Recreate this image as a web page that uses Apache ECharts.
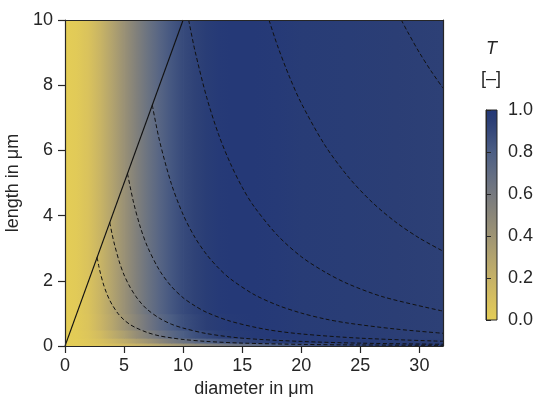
<!DOCTYPE html>
<html>
<head>
<meta charset="utf-8">
<script src="https://cdn.jsdelivr.net/npm/echarts@6/dist/echarts.min.js"></script>
<style>
  html, body { margin: 0; padding: 0; background: #ffffff; }
  #chart { width: 537px; height: 397px; }
</style>
</head>
<body>
<div id="chart"></div>
<script>
// Sample positions along the diameter axis (µm)
const diameterSamples = [0, 1, 2, 3, 4, 5, 6, 7, 8, 9, 10, 11, 12, 13, 14, 16, 18, 20, 24, 28, 32];

// Horizontal bands of length (µm); T only varies with length close to zero
const lengthBands = [[0, 0.1], [0.1, 0.25], [0.25, 0.5], [0.5, 1], [1, 10]];

// T profiles across the diameter samples, one per length band
const tBandA = [0, 0.01, 0.03, 0.06, 0.10, 0.14, 0.19, 0.24, 0.30, 0.36, 0.42, 0.48, 0.54, 0.59, 0.64, 0.72, 0.79, 0.85, 0.92, 0.96, 0.97];
const tBandB = [0, 0.01, 0.04, 0.09, 0.16, 0.23, 0.32, 0.40, 0.49, 0.58, 0.65, 0.72, 0.78, 0.83, 0.87, 0.93, 0.97, 0.98, 0.98, 0.96, 0.95];
const tBandC = [0, 0.015, 0.06, 0.13, 0.23, 0.33, 0.44, 0.54, 0.64, 0.73, 0.80, 0.86, 0.90, 0.94, 0.96, 0.98, 0.99, 0.98, 0.97, 0.95, 0.94];
const tBandD = [0, 0.02, 0.07, 0.17, 0.28, 0.40, 0.51, 0.62, 0.72, 0.80, 0.87, 0.91, 0.95, 0.97, 0.98, 0.99, 0.98, 0.97, 0.96, 0.95, 0.94];
const tBandE = [0, 0.02, 0.08, 0.18, 0.30, 0.42, 0.54, 0.65, 0.75, 0.83, 0.89, 0.93, 0.96, 0.98, 0.99, 0.99, 0.98, 0.97, 0.96, 0.95, 0.94];
const tProfiles = [tBandA, tBandB, tBandC, tBandD, tBandE];

// Dashed iso-volume curves, points as [diameter, length]
const contour1 = [[2.72, 2.72], [2.85, 2.47], [3, 2.23], [3.25, 1.90], [3.5, 1.64], [3.75, 1.43], [4, 1.26], [4.5, 0.99], [5, 0.80], [5.5, 0.66], [6, 0.56], [7, 0.41], [8, 0.31], [9, 0.25], [10, 0.20], [12, 0.14], [15, 0.089], [20, 0.050], [25, 0.032], [32, 0.020]];
const contour2 = [[3.79, 3.79], [4, 3.41], [4.2, 3.10], [4.6, 2.58], [5, 2.18], [5.5, 1.81], [6, 1.52], [6.5, 1.29], [7, 1.11], [8, 0.85], [9, 0.67], [10, 0.55], [12, 0.38], [15, 0.24], [20, 0.14], [25, 0.087], [32, 0.053]];
const contour3 = [[5.29, 5.29], [5.8, 4.41], [6.4, 3.62], [7, 3.03], [8, 2.32], [9, 1.83], [10, 1.48], [11, 1.23], [12, 1.03], [14, 0.76], [17, 0.51], [20, 0.37], [25, 0.24], [32, 0.145]];
const contour4 = [[7.39, 7.39], [8, 6.30], [9, 4.98], [10, 4.03], [11, 3.33], [12, 2.80], [13, 2.39], [14, 2.06], [16, 1.58], [18, 1.25], [20, 1.01], [22, 0.83], [24, 0.70], [28, 0.52], [32, 0.39]];
const contour5 = [[10.47, 10.0], [11, 9.06], [12, 7.62], [13, 6.49], [14, 5.60], [15, 4.87], [16, 4.28], [18, 3.39], [20, 2.74], [22, 2.27], [24, 1.90], [27, 1.50], [32, 1.07]];
const contour6 = [[17.27, 10.0], [18, 9.20], [19, 8.26], [20, 7.45], [22, 6.16], [24, 5.18], [26, 4.41], [28, 3.80], [30, 3.31], [32, 2.91]];
const contour7 = [[28.47, 10.0], [29, 9.64], [30, 9.00], [31, 8.43], [32, 7.91]];
const contours = [contour1, contour2, contour3, contour4, contour5, contour6, contour7];

// Solid boundary line where length equals diameter
const boundaryLine = [[0, 0], [10, 10]];

// Axis ticks
const xTicks = [0, 5, 10, 15, 20, 25, 30];
const yTicks = [0, 2, 4, 6, 8, 10];
const colorbarTicks = [0, 0.2, 0.4, 0.6, 0.8, 1.0];

// Colour map: yellow (0) through grey to navy (1)
const cmapStops = [
  [0.0, [228, 205, 86]],
  [0.1, [214, 191, 95]],
  [0.2, [197, 177, 103]],
  [0.3, [178, 163, 110]],
  [0.4, [158, 148, 116]],
  [0.5, [138, 134, 121]],
  [0.6, [118, 121, 127]],
  [0.7, [97, 108, 131]],
  [0.8, [76, 94, 132]],
  [0.9, [53, 72, 122]],
  [0.95, [43, 62, 117]],
  [1.0, [35, 56, 120]]
];

function cmap(t) {
  t = Math.max(0, Math.min(1, t));
  for (let i = 1; i < cmapStops.length; i++) {
    const [t1, c1] = cmapStops[i];
    const [t0, c0] = cmapStops[i - 1];
    if (t <= t1) {
      const f = (t - t0) / (t1 - t0);
      const c = c0.map((v, k) => Math.round(v + (c1[k] - v) * f));
      return 'rgb(' + c.join(',') + ')';
    }
  }
  const c = cmapStops[cmapStops.length - 1][1];
  return 'rgb(' + c.join(',') + ')';
}

// Cells: [d0, d1, L0, L1, T(d0), T(d1)]
const cells = [];
lengthBands.forEach((band, b) => {
  const prof = tProfiles[b];
  for (let i = 0; i < diameterSamples.length - 1; i++) {
    cells.push([diameterSamples[i], diameterSamples[i + 1], band[0], band[1], prof[i], prof[i + 1]]);
  }
});

const FONT = '"Liberation Sans", Arial, sans-serif';
const INK = '#262626';
const FS = 18;

const chart = echarts.init(document.getElementById('chart'), null, { renderer: 'canvas' });

const option = {
  backgroundColor: '#ffffff',
  animation: false,
  textStyle: { fontFamily: FONT },
  grid: [
    { left: 65, top: 20, width: 378, height: 326, containLabel: false, outerBoundsMode: 'none' },
    { left: 486, top: 110, width: 11, height: 210, containLabel: false, outerBoundsMode: 'none' }
  ],
  xAxis: [
    {
      type: 'value', gridIndex: 0, min: 0, max: 32, z: 10,
      name: 'diameter in μm', nameLocation: 'middle', nameGap: 33,
      nameTextStyle: { fontSize: FS, color: INK, fontFamily: FONT },
      axisLine: { show: true, onZero: false, lineStyle: { color: INK, width: 1.2 } },
      axisTick: { show: true, length: 7, customValues: xTicks, lineStyle: { color: INK, width: 1.2 } },
      axisLabel: { fontSize: FS, color: INK, margin: 11, fontFamily: FONT, customValues: xTicks },
      splitLine: { show: false }
    },
    {
      type: 'value', gridIndex: 0, min: 0, max: 32, position: 'top', z: 10,
      axisLine: { show: true, onZero: false, lineStyle: { color: INK, width: 1.2 } },
      axisTick: { show: false }, axisLabel: { show: false }, splitLine: { show: false }
    },
    {
      type: 'value', gridIndex: 1, min: 0, max: 1, show: false
    }
  ],
  yAxis: [
    {
      type: 'value', gridIndex: 0, min: 0, max: 10, z: 10,
      name: 'length in μm', nameLocation: 'middle', nameGap: 31, nameRotate: 90,
      nameTextStyle: { fontSize: FS, color: INK, fontFamily: FONT },
      axisLine: { show: true, onZero: false, lineStyle: { color: INK, width: 1.2 } },
      axisTick: { show: true, length: 7, customValues: yTicks, lineStyle: { color: INK, width: 1.2 } },
      axisLabel: { fontSize: FS, color: INK, margin: 12, fontFamily: FONT, customValues: yTicks },
      splitLine: { show: false }
    },
    {
      type: 'value', gridIndex: 0, min: 0, max: 10, position: 'right', z: 10,
      axisLine: { show: true, onZero: false, lineStyle: { color: INK, width: 1.2 } },
      axisTick: { show: false }, axisLabel: { show: false }, splitLine: { show: false }
    },
    {
      type: 'value', gridIndex: 1, min: 0, max: 1, position: 'right', z: 10,
      axisLine: { show: true, lineStyle: { color: INK, width: 1 } },
      axisTick: { show: true, length: 5, customValues: colorbarTicks, lineStyle: { color: INK, width: 1 } },
      axisLabel: { fontSize: FS, color: INK, margin: 11, fontFamily: FONT, customValues: colorbarTicks,
        formatter: v => v.toFixed(1) },
      splitLine: { show: false }
    }
  ],
  series: [
    {
      type: 'custom',
      xAxisIndex: 0, yAxisIndex: 0,
      z: 1,
      clip: true,
      encode: { x: [0, 1], y: [2, 3] },
      data: cells,
      renderItem: function (params, api) {
        const d0 = api.value(0), d1 = api.value(1);
        const L0 = api.value(2), L1 = api.value(3);
        const pTL = api.coord([d0, L1]);
        const pBR = api.coord([d1, L0]);
        const extraW = d1 < 32 ? 0.8 : 0;
        const extraH = L0 > 0 ? 0.8 : 0;
        return {
          type: 'rect',
          shape: {
            x: pTL[0], y: pTL[1],
            width: pBR[0] - pTL[0] + extraW,
            height: pBR[1] - pTL[1] + extraH
          },
          style: {
            fill: new echarts.graphic.LinearGradient(pTL[0], 0, pBR[0], 0, [
              { offset: 0, color: cmap(api.value(4)) },
              { offset: 1, color: cmap(api.value(5)) }
            ], true),
            stroke: null
          }
        };
      }
    },
    ...contours.map(c => ({
      type: 'line',
      xAxisIndex: 0, yAxisIndex: 0,
      z: 5,
      data: c,
      symbol: 'none',
      smooth: 0.3,
      clip: true,
      lineStyle: { color: '#111111', width: 1, type: [4, 2.5] },
      silent: true
    })),
    {
      type: 'line',
      xAxisIndex: 0, yAxisIndex: 0,
      z: 6,
      data: boundaryLine,
      symbol: 'none',
      lineStyle: { color: '#111111', width: 1.1 },
      silent: true
    },
    {
      type: 'custom',
      xAxisIndex: 2, yAxisIndex: 2,
      z: 2,
      data: [[0, 1, 0, 1]],
      encode: { x: [0, 1], y: [2, 3] },
      renderItem: function (params, api) {
        const pTL = api.coord([0, 1]);
        const pBR = api.coord([1, 0]);
        const stops = cmapStops.map(s => ({ offset: s[0], color: cmap(s[0]) }));
        return {
          type: 'rect',
          shape: { x: pTL[0], y: pTL[1], width: pBR[0] - pTL[0], height: pBR[1] - pTL[1] },
          style: {
            fill: new echarts.graphic.LinearGradient(0, 1, 0, 0, stops),
            stroke: INK, lineWidth: 1
          }
        };
      }
    }
  ],
  graphic: [
    {
      type: 'text', left: 486, top: 40,
      style: { text: 'T', fontSize: FS, fontStyle: 'italic', fill: INK, fontFamily: FONT }
    },
    {
      type: 'text', left: 481, top: 70,
      style: { text: '[–]', fontSize: FS, fill: INK, fontFamily: FONT }
    }
  ]
};

chart.setOption(option);
</script>
</body>
</html>
